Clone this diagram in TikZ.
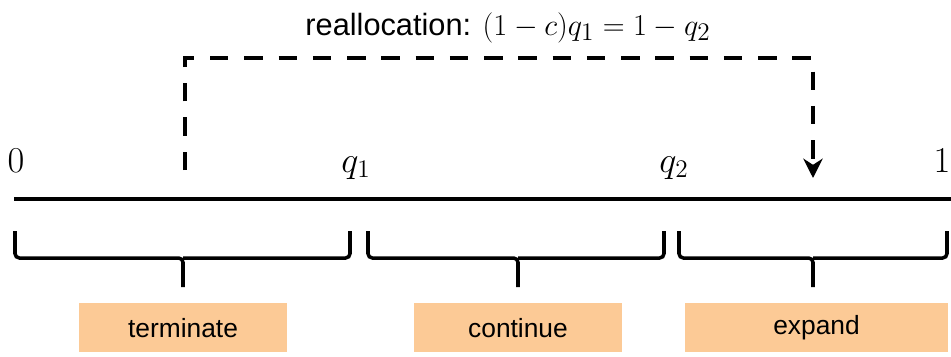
\documentclass[tikz,border=0pt]{standalone}
\usepackage{fontspec}
\setmainfont{Liberation Sans}
\usetikzlibrary{arrows.meta, positioning}
\definecolor{boxorange}{RGB}{252,202,150}

\begin{document}
\begin{tikzpicture}[x=0.02cm, y=-0.02cm]
    \tikzstyle{number_line} = [line width=2.2pt]

    \tikzstyle{bracket} = [line width=2pt, rounded corners=2.5pt]

    \tikzstyle{tick_label} = [
        anchor=base, inner sep=0pt, font=\fontsize{20}{22}\selectfont
    ]

    \tikzstyle{action} = [
        fill=boxorange, text centered, minimum height=0.98cm,
        font=\fontsize{15}{18}\selectfont
    ]

    \tikzstyle{realloc} = [
        line width=2.8pt, dash pattern=on 10.5pt off 9pt,
        -{Stealth[length=11pt, width=11pt, inset=3.5pt]}
    ]

    \useasboundingbox (0,0) rectangle (951,356);

    % Title
    \node[font=\fontsize{17.5}{20}\selectfont, inner sep=0pt, anchor=base] (title) at (508,35) {
        reallocation: {\fontsize{19}{21}\selectfont$(1-c)q_1 = 1-q_2$}
    };

    % Number line
    \coordinate (line_start) at (14,199);
    \coordinate (line_end) at (951,199);
    \draw[number_line] (line_start) -- (line_end);

    \node[tick_label] (zero) at (16,172) {$0$};
    \node[tick_label] (q1) at (356,172) {$q_1$};
    \node[tick_label] (q2) at (674,172) {$q_2$};
    \node[tick_label] (one) at (942,172) {$1$};

    % Reallocation arrow
    \coordinate (realloc_from) at (185,170);
    \coordinate (realloc_top) at (500,58);
    \coordinate (realloc_to) at (813,178);
    \draw[realloc] (realloc_from) |- (realloc_top) -| (realloc_to);

    % Brackets
    \coordinate (tip_term) at (183,287);
    \coordinate (tip_cont) at (518,287);
    \coordinate (tip_exp) at (813,287);

    \draw[bracket] (15,231) |- (183,258) -- (tip_term)
                   (183,258) -| (350,231);
    \draw[bracket] (368,231) |- (518,258) -- (tip_cont)
                   (518,258) -| (664,231);
    \draw[bracket] (679,231) |- (813,258) -- (tip_exp)
                   (813,258) -| (947,231);

    % Actions
    \node[action, minimum width=4.18cm, below=0.32cm of tip_term] (terminate) {terminate};
    \node[action, minimum width=4.16cm, below=0.32cm of tip_cont] (continue) {continue};
    \node[action, minimum width=5.26cm, below=0.32cm of tip_exp, xshift=0.07cm] (expand) {expand};

\end{tikzpicture}
\end{document}
